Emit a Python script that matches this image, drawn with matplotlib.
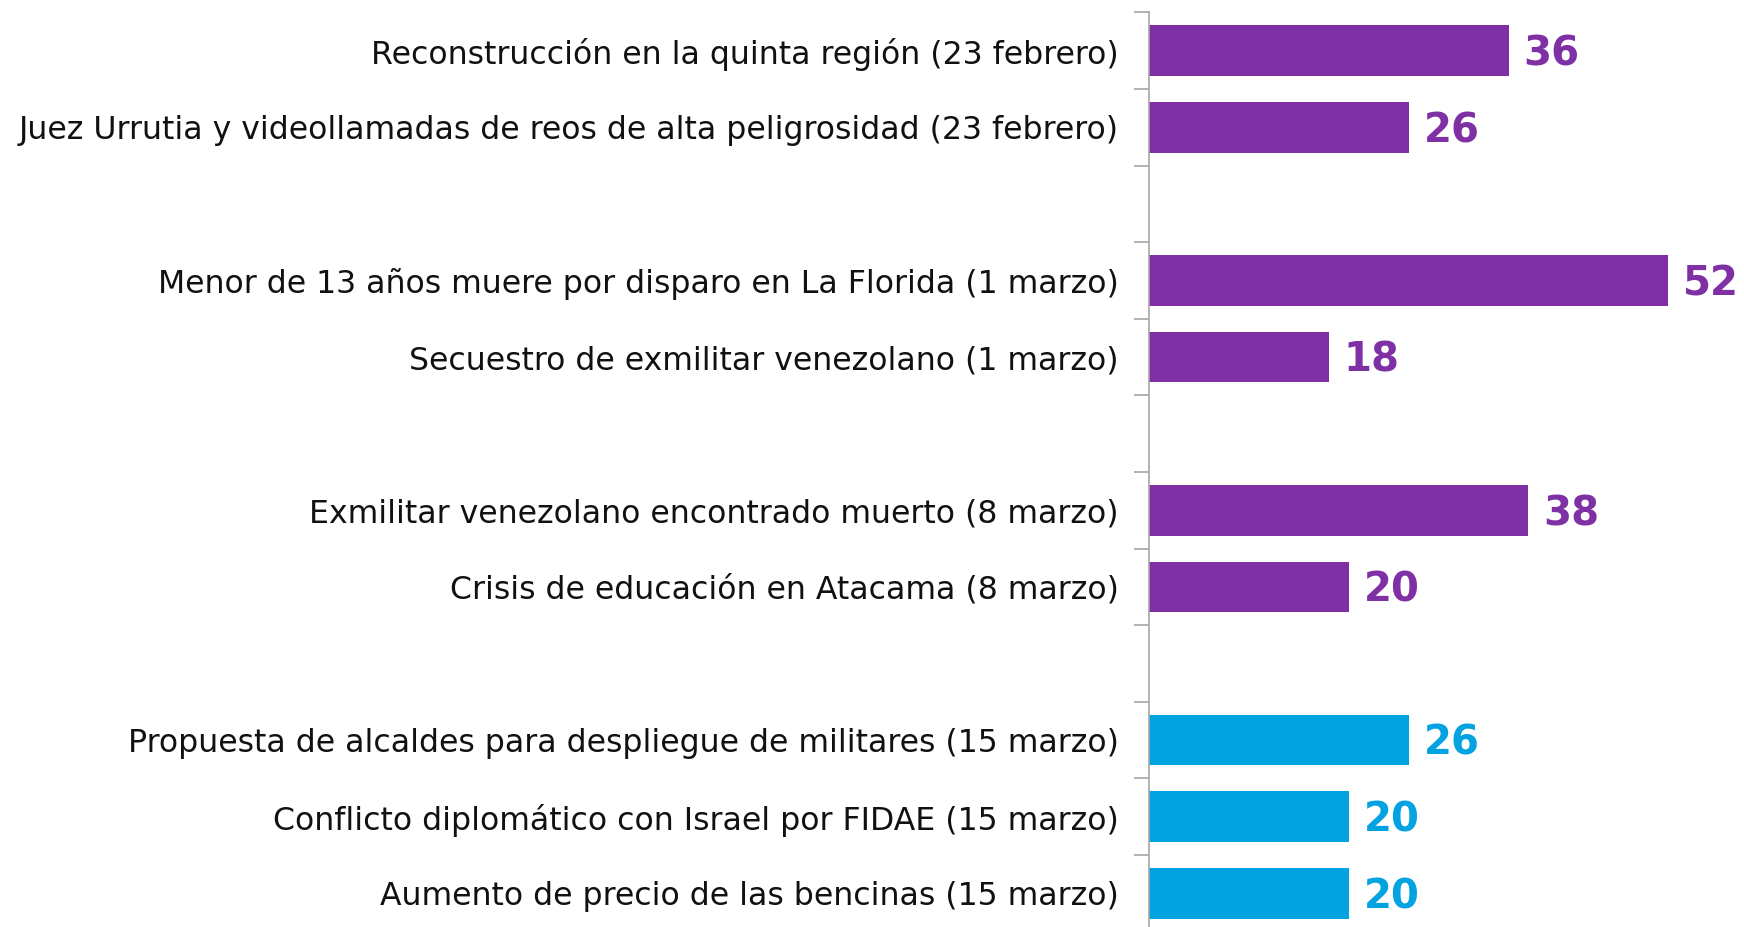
import matplotlib.pyplot as plt
from matplotlib.ticker import FixedLocator

labels = [
    "Reconstrucción en la quinta región (23 febrero)",
    "Juez Urrutia y videollamadas de reos de alta peligrosidad (23 febrero)",
    "",
    "Menor de 13 años muere por disparo en La Florida (1 marzo)",
    "Secuestro de exmilitar venezolano (1 marzo)",
    "",
    "Exmilitar venezolano encontrado muerto (8 marzo)",
    "Crisis de educación en Atacama (8 marzo)",
    "",
    "Propuesta de alcaldes para despliegue de militares (15 marzo)",
    "Conflicto diplomático con Israel por FIDAE (15 marzo)",
    "Aumento de precio de las bencinas (15 marzo)",
]
values = [36, 26, None, 52, 18, None, 38, 20, None, 26, 20, 20]
groups = ["p", "p", None, "p", "p", None, "p", "p", None, "b", "b", "b"]

purple = "#7F30A5"
blue = "#02A3E0"

fig = plt.figure(figsize=(17.44, 9.27), dpi=100)
ax = fig.add_axes([0.659, -0.0049, 0.341, 0.9916])

for i, (v, g) in enumerate(zip(values, groups)):
    if v is None:
        continue
    c = purple if g == "p" else blue
    ax.barh(i, v, height=0.66, color=c)
    ax.text(v + 1.5, i + 0.05, str(v), va="center", ha="left", color=c,
            fontsize=29, fontweight="bold")

ax.set_xlim(0, 59.6)
ax.set_ylim(len(labels) - 0.5, -0.5)
ax.set_yticks(range(len(labels)))
ax.set_yticklabels(labels, fontsize=22.7, color="#111111")
ax.tick_params(axis="y", which="major", length=0, pad=22)
ax.yaxis.set_minor_locator(FixedLocator([i - 0.5 for i in range(len(labels) + 1)]))
ax.tick_params(axis="y", which="minor", length=11, color="#A6A6A6", width=1.2)
ax.set_xticks([])
for s in ["top", "right", "bottom"]:
    ax.spines[s].set_visible(False)
ax.spines["left"].set_color("#A6A6A6")
ax.spines["left"].set_linewidth(1.2)

fig.savefig("out.png", dpi=100)
